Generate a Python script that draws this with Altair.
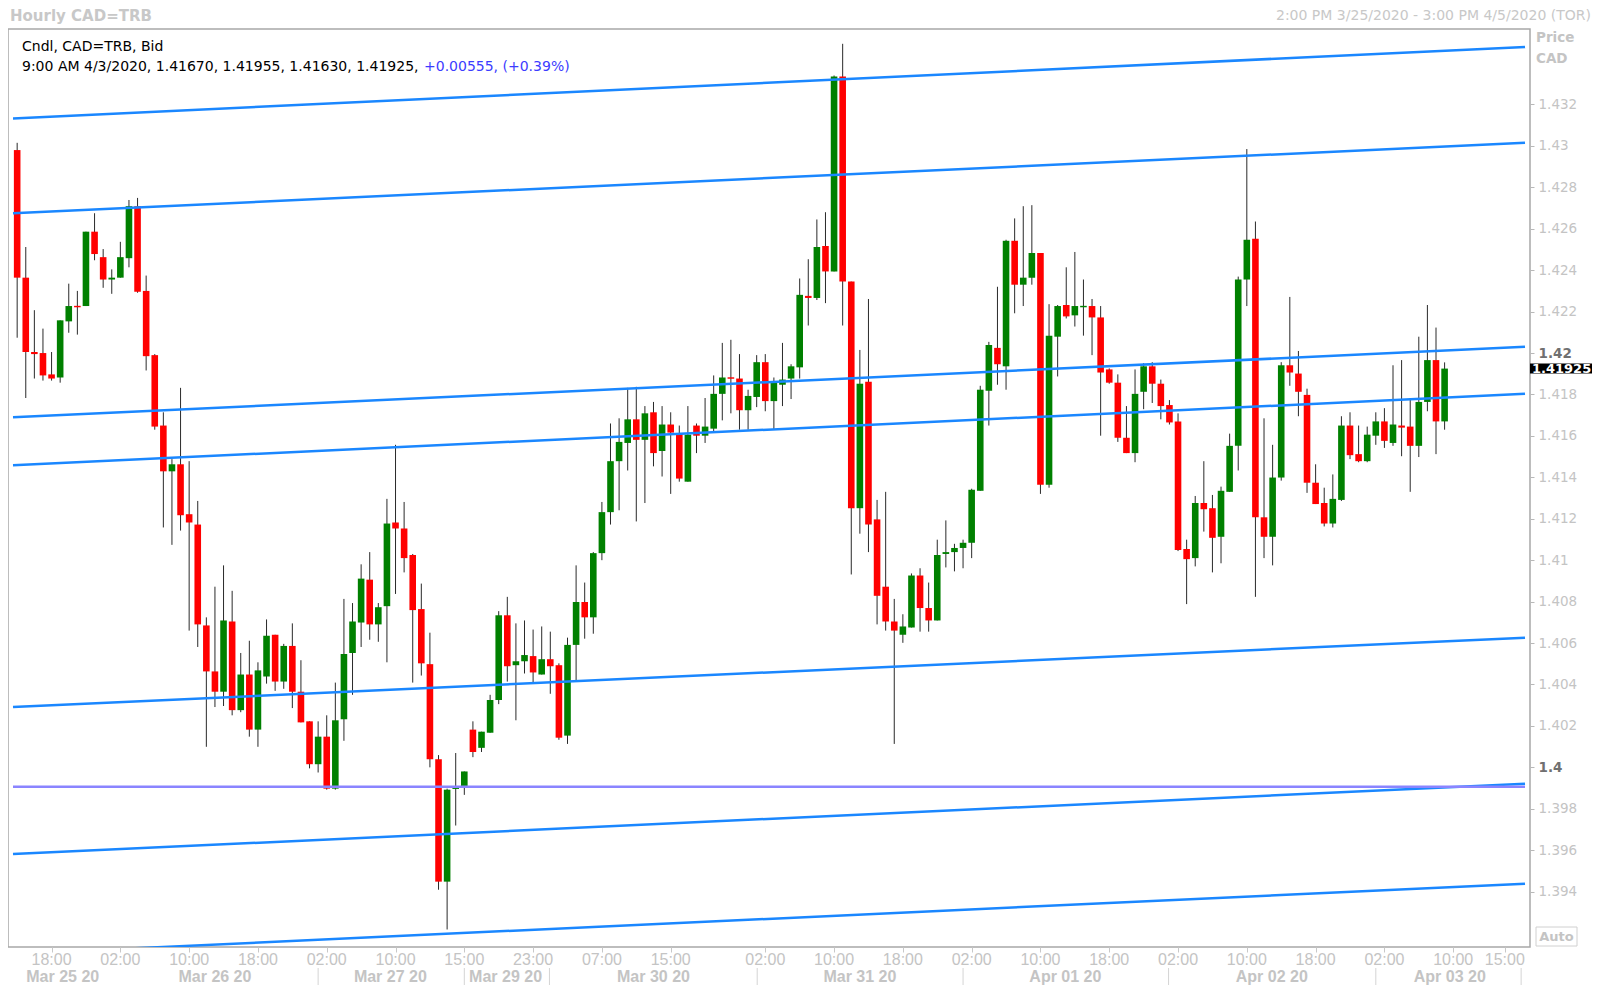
import altair as alt
import pandas as pd

# ---------------- data (hourly candles, index 0 = 3/25 14:00) ----------------
opens = [
    1.42980, 1.42364, 1.42005, 1.42000, 1.41897, 1.41882, 1.42153, 1.42227, 1.42227, 1.42586,
    1.42463, 1.42355, 1.42364, 1.42458, 1.42709, 1.42300, 1.41990, 1.41650, 1.41429, 1.41463,
    1.41222, 1.41172, 1.40685, 1.40463, 1.40365, 1.40704, 1.40276, 1.40448, 1.40182, 1.40438,
    1.40640, 1.40414, 1.40586, 1.40365, 1.40222, 1.40015, 1.40148, 1.39897, 1.40232, 1.40552,
    1.40699, 1.40906, 1.40690, 1.40778, 1.41182, 1.41153, 1.41025, 1.40764, 1.40498, 1.40039,
    1.39448, 1.39897, 1.39901, 1.40182, 1.40094, 1.40167, 1.40325, 1.40734, 1.40493, 1.40512,
    1.40537, 1.40448, 1.40522, 1.40493, 1.40153, 1.40591, 1.40798, 1.40724, 1.41034, 1.41232,
    1.41478, 1.41566, 1.41680, 1.41581, 1.41714, 1.41527, 1.41655, 1.41611, 1.41379, 1.41650,
    1.41601, 1.41635, 1.41803, 1.41882, 1.41877, 1.41724, 1.41788, 1.41956, 1.41768, 1.41847,
    1.41877, 1.41931, 1.42276, 1.42266, 1.42517, 1.42394, 1.43335, 1.42345, 1.41251, 1.41862,
    1.41197, 1.40872, 1.40704, 1.40640, 1.40675, 1.40926, 1.40769, 1.40709, 1.41030, 1.41039,
    1.41059, 1.41084, 1.41335, 1.41818, 1.42025, 1.41936, 1.42542, 1.42330, 1.42364, 1.42483,
    1.41364, 1.42079, 1.42232, 1.42182, 1.42222, 1.42227, 1.42172, 1.41921, 1.41857, 1.41591,
    1.41517, 1.41813, 1.41936, 1.41852, 1.41749, 1.41670, 1.41054, 1.41010, 1.41276, 1.41251,
    1.41113, 1.41330, 1.41552, 1.42355, 1.42552, 1.41207, 1.41113, 1.41399, 1.41941, 1.41901,
    1.41798, 1.41374, 1.41276, 1.41177, 1.41291, 1.41650, 1.41512, 1.41478, 1.41601, 1.41670,
    1.41566, 1.41650, 1.41645, 1.41552, 1.41764, 1.41966, 1.41670,
]
highs = [
    1.43015, 1.42512, 1.42207, 1.42118, 1.42005, 1.42158, 1.42335, 1.42300, 1.42586, 1.42675,
    1.42502, 1.42404, 1.42537, 1.42739, 1.42749, 1.42374, 1.41995, 1.41714, 1.41488, 1.41832,
    1.41478, 1.41286, 1.40724, 1.40872, 1.40975, 1.40852, 1.40552, 1.40611, 1.40507, 1.40714,
    1.40640, 1.40596, 1.40695, 1.40517, 1.40222, 1.40222, 1.40251, 1.40409, 1.40813, 1.40793,
    1.40980, 1.41039, 1.40793, 1.41296, 1.41557, 1.41281, 1.41030, 1.40887, 1.40650, 1.40059,
    1.39897, 1.40069, 1.39980, 1.40222, 1.40172, 1.40350, 1.40754, 1.40823, 1.40695, 1.40709,
    1.40665, 1.40680, 1.40655, 1.40502, 1.40626, 1.40975, 1.40892, 1.41039, 1.41281, 1.41660,
    1.41685, 1.41832, 1.41837, 1.41744, 1.41764, 1.41744, 1.41714, 1.41650, 1.41744, 1.41660,
    1.41783, 1.41892, 1.42049, 1.42064, 1.41995, 1.41823, 1.41990, 1.41995, 1.41882, 1.42049,
    1.41946, 1.42360, 1.42453, 1.42645, 1.42680, 1.43340, 1.43493, 1.42345, 1.42015, 1.42261,
    1.41291, 1.41330, 1.40813, 1.40739, 1.40936, 1.40961, 1.40892, 1.41099, 1.41192, 1.41079,
    1.41099, 1.41345, 1.41842, 1.42054, 1.42320, 1.42547, 1.42650, 1.42709, 1.42714, 1.42483,
    1.42236, 1.42232, 1.42414, 1.42488, 1.42355, 1.42261, 1.42227, 1.41926, 1.41897, 1.41744,
    1.41921, 1.41951, 1.41956, 1.41872, 1.41773, 1.41709, 1.41099, 1.41310, 1.41478, 1.41315,
    1.41355, 1.41611, 1.42369, 1.42985, 1.42635, 1.41685, 1.41557, 1.41956, 1.42271, 1.42010,
    1.41828, 1.41463, 1.41350, 1.41414, 1.41695, 1.41714, 1.41650, 1.41645, 1.41714, 1.41734,
    1.41941, 1.41966, 1.41783, 1.42079, 1.42232, 1.42123, 1.41955,
]
lows = [
    1.42074, 1.41783, 1.41877, 1.41867, 1.41867, 1.41857, 1.42098, 1.42089, 1.42227, 1.42448,
    1.42315, 1.42286, 1.42364, 1.42414, 1.42291, 1.41916, 1.41630, 1.41158, 1.41074, 1.41143,
    1.40660, 1.40581, 1.40099, 1.40291, 1.40296, 1.40251, 1.40266, 1.40148, 1.40099, 1.40404,
    1.40369, 1.40379, 1.40286, 1.40217, 1.39995, 1.39975, 1.39892, 1.39892, 1.40128, 1.40350,
    1.40581, 1.40616, 1.40606, 1.40507, 1.40837, 1.40941, 1.40409, 1.40443, 1.40000, 1.39409,
    1.39217, 1.39719, 1.39867, 1.40049, 1.40074, 1.40167, 1.40305, 1.40414, 1.40227, 1.40453,
    1.40409, 1.40448, 1.40355, 1.40133, 1.40113, 1.40419, 1.40621, 1.40645, 1.41000, 1.41172,
    1.41241, 1.41433, 1.41187, 1.41276, 1.41453, 1.41404, 1.41320, 1.41379, 1.41379, 1.41517,
    1.41566, 1.41621, 1.41675, 1.41709, 1.41630, 1.41630, 1.41739, 1.41719, 1.41630, 1.41744,
    1.41778, 1.41877, 1.42133, 1.42256, 1.42241, 1.42394, 1.42133, 1.40931, 1.41128, 1.41039,
    1.40690, 1.40660, 1.40113, 1.40601, 1.40675, 1.40655, 1.40655, 1.40709, 1.40965, 1.40946,
    1.40961, 1.41010, 1.41335, 1.41650, 1.41847, 1.41823, 1.42192, 1.42227, 1.42330, 1.41320,
    1.41350, 1.41887, 1.42167, 1.42128, 1.42084, 1.41990, 1.41601, 1.41852, 1.41571, 1.41517,
    1.41473, 1.41729, 1.41759, 1.41680, 1.41655, 1.41044, 1.40788, 1.40970, 1.41138, 1.40941,
    1.40985, 1.41330, 1.41433, 1.42227, 1.40823, 1.41010, 1.40975, 1.41384, 1.41842, 1.41695,
    1.41325, 1.41271, 1.41163, 1.41158, 1.41286, 1.41488, 1.41473, 1.41473, 1.41557, 1.41542,
    1.41552, 1.41502, 1.41330, 1.41498, 1.41719, 1.41512, 1.41630,
]
closes = [
    1.42364, 1.42005, 1.41995, 1.41892, 1.41877, 1.42158, 1.42227, 1.42222, 1.42586, 1.42478,
    1.42355, 1.42364, 1.42463, 1.42709, 1.42296, 1.41985, 1.41645, 1.41429, 1.41463, 1.41217,
    1.41182, 1.40690, 1.40463, 1.40365, 1.40709, 1.40276, 1.40448, 1.40182, 1.40468, 1.40635,
    1.40414, 1.40586, 1.40365, 1.40217, 1.40015, 1.40148, 1.39897, 1.40227, 1.40547, 1.40704,
    1.40911, 1.40690, 1.40773, 1.41177, 1.41153, 1.41010, 1.40759, 1.40502, 1.40039, 1.39448,
    1.39892, 1.39901, 1.39980, 1.40074, 1.40172, 1.40325, 1.40734, 1.40488, 1.40512, 1.40542,
    1.40458, 1.40522, 1.40488, 1.40143, 1.40591, 1.40798, 1.40724, 1.41034, 1.41232, 1.41478,
    1.41571, 1.41680, 1.41581, 1.41709, 1.41517, 1.41655, 1.41616, 1.41394, 1.41606, 1.41601,
    1.41645, 1.41803, 1.41882, 1.41877, 1.41724, 1.41793, 1.41956, 1.41768, 1.41862, 1.41872,
    1.41936, 1.42281, 1.42266, 1.42512, 1.42394, 1.43335, 1.42345, 1.41251, 1.41852, 1.41172,
    1.40828, 1.40704, 1.40660, 1.40680, 1.40926, 1.40769, 1.40709, 1.41025, 1.41039, 1.41059,
    1.41084, 1.41340, 1.41823, 1.42039, 1.41946, 1.42542, 1.42330, 1.42364, 1.42483, 1.41364,
    1.42084, 1.42227, 1.42177, 1.42227, 1.42227, 1.42172, 1.41906, 1.41857, 1.41591, 1.41517,
    1.41803, 1.41936, 1.41852, 1.41744, 1.41665, 1.41049, 1.41005, 1.41276, 1.41246, 1.41108,
    1.41335, 1.41552, 1.42355, 1.42547, 1.41207, 1.41113, 1.41399, 1.41941, 1.41906, 1.41813,
    1.41374, 1.41271, 1.41177, 1.41296, 1.41650, 1.41507, 1.41478, 1.41606, 1.41670, 1.41576,
    1.41655, 1.41640, 1.41552, 1.41764, 1.41966, 1.41670, 1.41925,
]

# bottom axis: time ticks (bar index) and labels
tick_idx = [4, 12, 20, 28, 36, 44, 52, 60, 68, 76, 87, 95, 103, 111, 119, 127, 135, 143, 151, 159, 167, 173]
tick_lbl = ["18:00", "02:00", "10:00", "18:00", "02:00", "10:00", "15:00", "23:00", "07:00", "15:00",
            "02:00", "10:00", "18:00", "02:00", "10:00", "18:00", "02:00", "10:00", "18:00", "02:00",
            "10:00", "15:00"]
date_pos = [5.3, 23.0, 43.4, 56.8, 74.0, 98.0, 121.9, 145.9, 166.6]
date_lbl = ["Mar 25 20", "Mar 26 20", "Mar 27 20", "Mar 29 20", "Mar 30 20",
            "Mar 31 20", "Apr 01 20", "Apr 02 20", "Apr 03 20"]
sep_pos = [35.0, 52.0, 61.9, 86.06, 110.0, 133.9, 158.0, 174.9]

# right axis ticks
price_ticks = [1.394, 1.396, 1.398, 1.400, 1.402, 1.404, 1.406, 1.408, 1.410, 1.412,
               1.414, 1.416, 1.418, 1.420, 1.422, 1.424, 1.426, 1.428, 1.430, 1.432]

# channel / trend lines (price at left edge, price at right edge)
line_x = [-0.485, 175.35]
line_start = [1.43133, 1.42675, 1.41690, 1.41458, 1.40291, 1.39581, 1.39099]
line_end = [1.43478, 1.43015, 1.42030, 1.41803, 1.40626, 1.39921, 1.39438]
level_price = [1.39906]
last_price = [1.41925]

# ---------------- build ----------------
W, H = 1522, 918
PR = 62  # right padding
xs = alt.Scale(domain=line_x, nice=False, zero=False)
ys = alt.Scale(domain=[1.391325, 1.435645], nice=False, zero=False)

cond = "abs(datum.value - 1.42) < 0.00001 || abs(datum.value - 1.4) < 0.00001"
x_axis = alt.Axis(values=tick_idx, labels=False, ticks=True, tickSize=5, tickColor="#c8c8c8",
                  domain=False, grid=False, title=None)
y_axis = alt.Axis(orient="right", values=price_ticks, format=".3~f", labelFont="DejaVu Sans",
                  labelFontSize=13.5,
                  labelColor={"condition": {"test": cond, "value": "#707070"}, "value": "#c4c4c4"},
                  labelFontWeight={"condition": {"test": cond, "value": "bold"}, "value": "normal"},
                  tickSize=4, tickColor="#b8b8b8", labelPadding=4, labelOverlap=False,
                  labelFlush=False, labelBound=False, domain=False, grid=False, title=None)

df = pd.DataFrame({"i": list(range(len(opens))), "o": opens, "h": highs, "l": lows, "c": closes})
df["dir"] = ["up" if c >= o else "down" for o, c in zip(df["o"], df["c"])]
top = df[["o", "c"]].max(axis=1)
bot = df[["o", "c"]].min(axis=1)
mid = (top + bot) / 2
minb = 0.00007
small = (top - bot) < minb
df["top"] = top.where(~small, mid + minb / 2)
df["bot"] = bot.where(~small, mid - minb / 2)

X = lambda f: alt.X(f, scale=xs, axis=x_axis)
Y = lambda f: alt.Y(f, scale=ys, axis=y_axis)

wicks = alt.Chart(df).mark_rule(color="#2a2a2a", strokeWidth=1).encode(
    x=X("i:Q"), y=Y("l:Q"), y2="h:Q")
bodies = alt.Chart(df).mark_bar(width=6.6).encode(
    x=X("i:Q"), y=Y("top:Q"), y2="bot:Q",
    color=alt.Color("dir:N", scale=alt.Scale(domain=["up", "down"], range=["#008000", "#ff0000"]),
                    legend=None))

ldf = pd.DataFrame({"x1": [line_x[0]] * len(line_start), "x2": [line_x[1]] * len(line_start),
                    "p1": line_start, "p2": line_end})
lines = alt.Chart(ldf).mark_rule(color="#1a87ff", strokeWidth=2.5, clip=True).encode(
    x=X("x1:Q"), x2="x2:Q", y=Y("p1:Q"), y2="p2:Q")
lvl = pd.DataFrame({"x1": [line_x[0]], "x2": [line_x[1]], "p": level_price})
level = alt.Chart(lvl).mark_rule(color="#8a84ff", strokeWidth=2.5, clip=True).encode(
    x=X("x1:Q"), x2="x2:Q", y=Y("p:Q"))

tdf = pd.DataFrame({"i": tick_idx, "lbl": tick_lbl})
tlabels = alt.Chart(tdf).mark_text(font="Liberation Sans", fontSize=16, color="#c4c4c4",
                                   align="center", baseline="middle").encode(
    x=X("i:Q"), y=alt.value(H + 13), text="lbl:N")
ddf = pd.DataFrame({"i": date_pos, "lbl": date_lbl})
dlabels = alt.Chart(ddf).mark_text(font="Liberation Sans", fontSize=16, fontWeight="bold",
                                   color="#c4c4c4", align="center", baseline="middle").encode(
    x=X("i:Q"), y=alt.value(H + 30), text="lbl:N")
sdf = pd.DataFrame({"i": sep_pos})
seps = alt.Chart(sdf).mark_rule(color="#d4d4d4", strokeWidth=1).encode(
    x=X("i:Q"), y=alt.value(H + 21), y2=alt.value(H + 38))

tag = pd.DataFrame({"p": last_price, "lo": [last_price[0] - 0.000242],
                    "hi": [last_price[0] + 0.000242], "t": ["1.41925"]})
tag_box = alt.Chart(tag).mark_rect(color="black").encode(
    x=alt.value(W), x2=alt.value(W + PR), y=Y("lo:Q"), y2="hi:Q")
tag_txt = alt.Chart(tag).mark_text(font="DejaVu Sans", fontSize=13, fontWeight="bold",
                                   color="white", align="left", baseline="middle").encode(
    x=alt.value(W + 2), y=Y("p:Q"), text="t:N")

def label(txt, x, y, size, color="#c4c4c4", weight="normal", align="left", font="DejaVu Sans"):
    return alt.Chart(pd.DataFrame({"t": [txt]})).mark_text(
        font=font, fontSize=size, fontWeight=weight, color=color, align=align,
        baseline="middle").encode(x=alt.value(x), y=alt.value(y), text="t:N")

title = label("Hourly CAD=TRB", 2, -13, 15, color="#c8c8c8", weight="bold")
period = label("2:00 PM 3/25/2020 - 3:00 PM 4/5/2020 (TOR)", W + PR - 1, -13, 14,
               color="#c8c8c8", align="right")
leg1 = label("Cndl, CAD=TRB, Bid", 14, 18, 14, color="black")
leg2 = label("9:00 AM 4/3/2020, 1.41670, 1.41955, 1.41630, 1.41925,", 14, 38, 14, color="black")
leg3 = label("+0.00555, (+0.39%)", 416, 38, 14, color="#3c3cff")
price_lbl = label("Price", W + 6, 9, 13.5, weight="bold")
cad_lbl = label("CAD", W + 6, 30, 13.5, weight="bold")
auto_box = alt.Chart(pd.DataFrame({"t": ["Auto"]})).mark_rect(
    fill="white", stroke="#d0d0d0", strokeWidth=1).encode(
    x=alt.value(W + 6), x2=alt.value(W + 47), y=alt.value(H - 20), y2=alt.value(H - 1))
auto_txt = label("Auto", W + 26.5, H - 10, 13, weight="bold", align="center")

chart = alt.layer(
    wicks, bodies, lines, level, tlabels, dlabels, seps, tag_box, tag_txt,
    title, period, leg1, leg2, leg3, price_lbl, cad_lbl, auto_box, auto_txt,
).properties(
    width=W, height=H,
    padding={"left": 0, "top": 21, "right": PR, "bottom": 38},
    autosize=alt.AutoSizeParams(type="none"),
    background="white",
).configure_view(stroke="#a8a8a8", strokeWidth=1.5)

chart.save("out.html", embed_options={"renderer": "svg", "actions": False})
